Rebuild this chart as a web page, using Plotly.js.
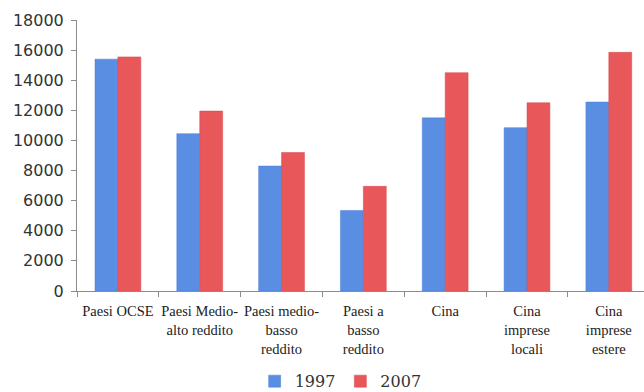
<!DOCTYPE html>
<html>
<head>
<meta charset="utf-8">
<script src="https://cdn.plot.ly/plotly-3.0.1.min.js"></script>
<style>
  html, body { margin: 0; padding: 0; background: #ffffff; overflow: hidden; }
  #chart { width: 644px; height: 392px; }
</style>
</head>
<body>
<div id="chart"></div>
<script>
// Categories (x axis labels, wrapped onto several lines)
const categories = [
  "Paesi OCSE",
  "Paesi Medio-<br>alto reddito",
  "Paesi medio-<br>basso<br>reddito",
  "Paesi a<br>basso<br>reddito",
  "Cina",
  "Cina<br>imprese<br>locali",
  "Cina<br>imprese<br>estere"
];

// Series values
const values1997 = [15400, 10450, 8300, 5350, 11500, 10850, 12550];
const values2007 = [15550, 11950, 9200, 6950, 14500, 12500, 15850];

// Series names
const seriesNames = ["1997", "2007"];

// Y axis ticks
const yTicks = [0, 2000, 4000, 6000, 8000, 10000, 12000, 14000, 16000, 18000];

const traces = [
  {
    type: "bar",
    name: seriesNames[0],
    x: categories,
    y: values1997,
    marker: { color: "#5a8ee2", line: { color: "#4a7fd6", width: 0.5 } },
    hoverinfo: "y"
  },
  {
    type: "bar",
    name: seriesNames[1],
    x: categories,
    y: values2007,
    marker: { color: "#e8585b", line: { color: "#dc4448", width: 0.5 } },
    hoverinfo: "y"
  }
];

const axisGrey = "#8c8c8c";

const layout = {
  width: 644,
  height: 392,
  margin: { l: 77, r: 0, t: 20, b: 101, autoexpand: false },
  paper_bgcolor: "#ffffff",
  plot_bgcolor: "#ffffff",
  barmode: "group",
  bargap: 0.44,
  bargroupgap: 0,
  showlegend: true,
  legend: {
    orientation: "h",
    x: 0.465,
    xanchor: "center",
    y: -0.333,
    yanchor: "middle",
    font: { family: "DejaVu Serif, serif", size: 16, color: "#333333" },
    itemwidth: 30,
    traceorder: "normal"
  },
  xaxis: {
    type: "category",
    range: [-0.5, 6.43],
    automargin: false,
    showline: true,
    linecolor: axisGrey,
    linewidth: 1,
    ticks: "outside",
    tickson: "boundaries",
    ticklen: 5,
    tickcolor: axisGrey,
    showgrid: false,
    zeroline: false,
    tickangle: 0,
    ticklabelstandoff: 7,
    tickfont: { family: "Liberation Serif, serif", size: 14.5, color: "#222222" }
  },
  yaxis: {
    range: [0, 18000],
    automargin: false,
    tickvals: yTicks,
    ticktext: yTicks.map(String),
    showline: true,
    linecolor: axisGrey,
    linewidth: 1,
    ticks: "outside",
    ticklen: 5,
    tickcolor: axisGrey,
    showgrid: false,
    zeroline: false,
    ticklabelstandoff: 4,
    tickfont: { family: "DejaVu Sans, sans-serif", size: 16, color: "#333333" }
  }
};

Plotly.newPlot("chart", traces, layout, { displayModeBar: false, staticPlot: true });
</script>
</body>
</html>
